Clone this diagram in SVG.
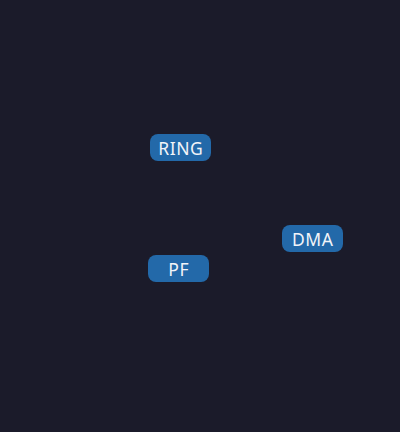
<svg xmlns="http://www.w3.org/2000/svg" width="400" height="432" viewBox="0 0 400 432">
<style>
.n rect{fill:#2369a9;}
.n text{fill:#f2f4f8;font-family:"Noto Sans",sans-serif;font-size:17.5px;letter-spacing:0.6px;text-anchor:middle;dominant-baseline:central;}
</style>
<rect width="400" height="432" fill="#1b1b2a"/>
<g id="connectors"></g>
<g id="RING" class="n"><rect x="150" y="134" width="61" height="27" rx="8"/><text x="180.8" y="147.5">RING</text></g>
<g id="DMA" class="n"><rect x="282" y="225" width="61" height="27" rx="8"/><text x="312.8" y="238.5">DMA</text></g>
<g id="PF" class="n"><rect x="148" y="255" width="61" height="27" rx="8"/><text x="178.8" y="268.5">PF</text></g>
</svg>
